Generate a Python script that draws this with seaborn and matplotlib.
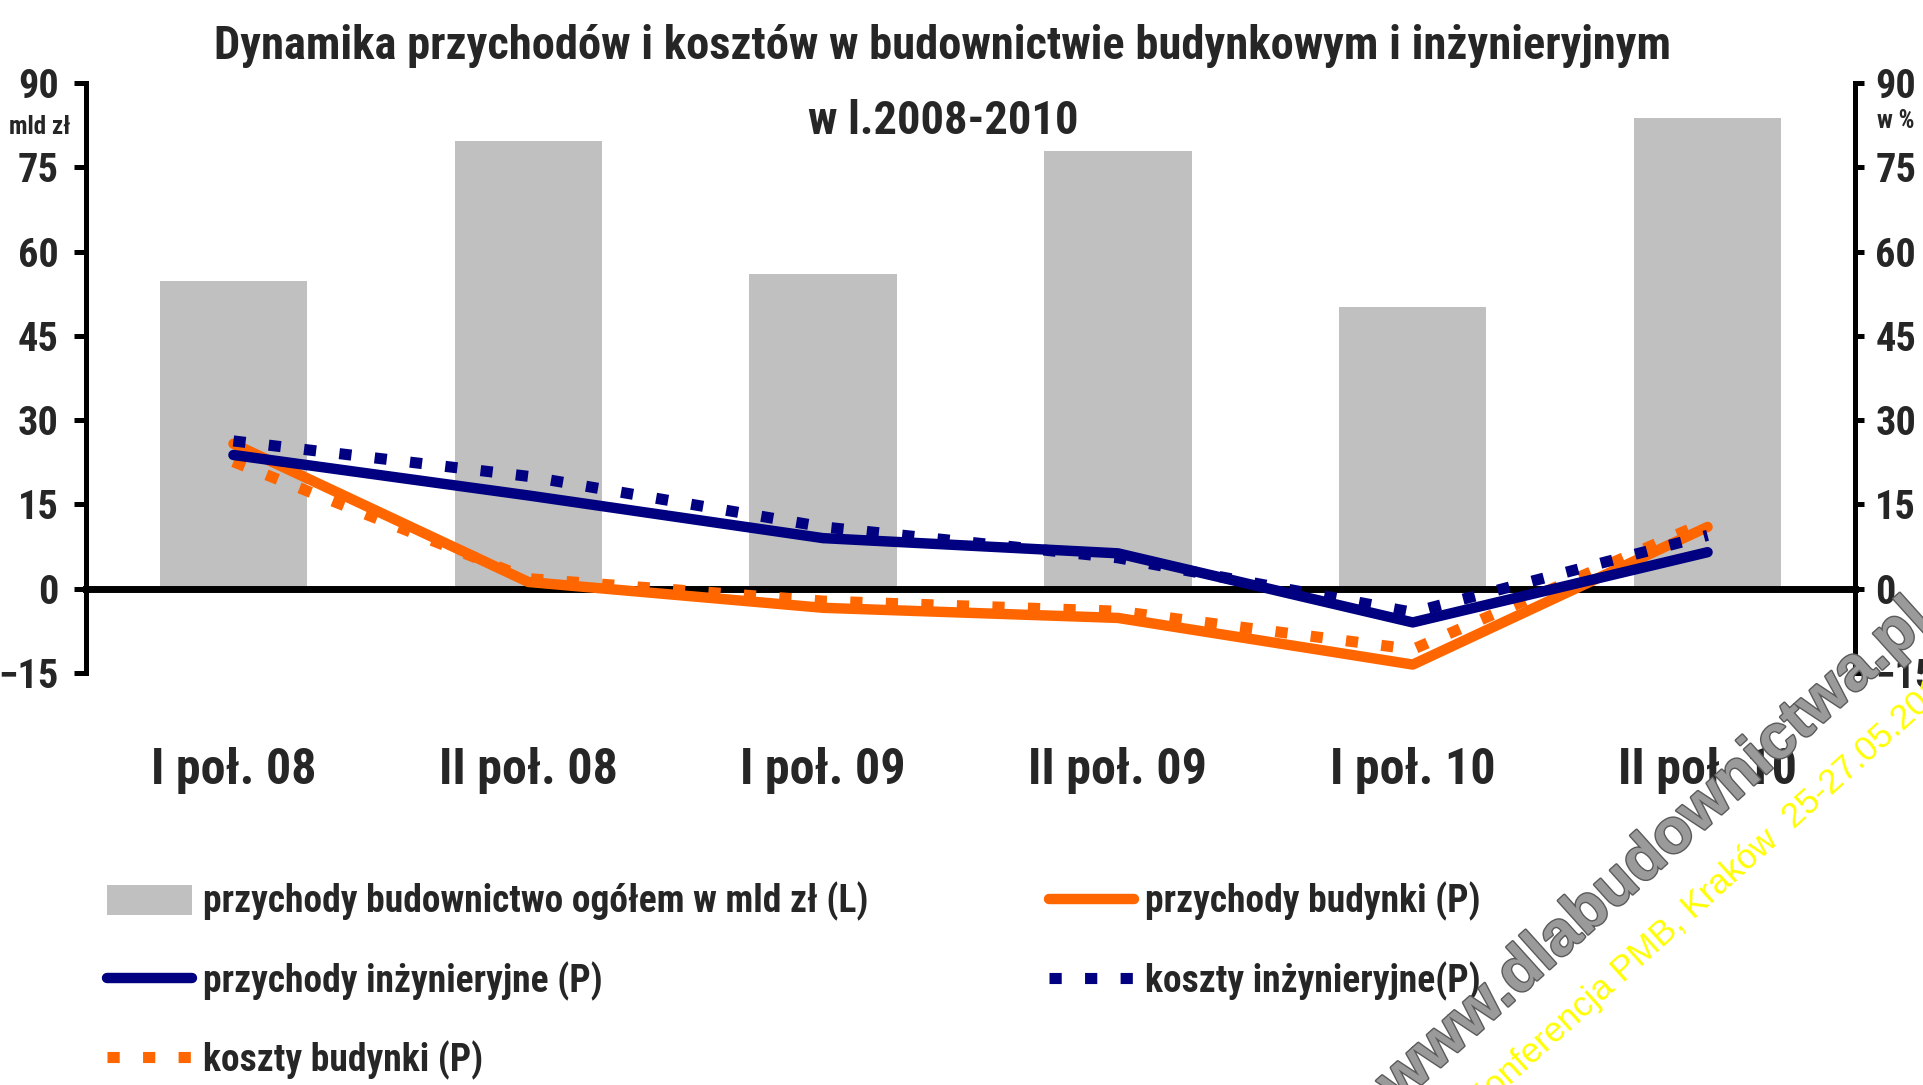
import numpy as np
import pandas as pd
import matplotlib
matplotlib.use("Agg")
import matplotlib.pyplot as plt
from matplotlib.lines import Line2D
from matplotlib.patches import Patch
import matplotlib.patheffects as pe
import seaborn as sns

# --- data -------------------------------------------------------------
okresy = ["I poł. 08", "II poł. 08", "I poł. 09", "II poł. 09", "I poł. 10", "II poł. 10"]
przychody_ogolem = [54.8, 79.7, 56.0, 77.9, 50.2, 83.8]          # mld zł (L)
przychody_budynki = [25.8, 1.2, -3.4, -5.2, -13.5, 11.0]          # % (P)
koszty_budynki = [22.6, 1.8, -2.2, -4.0, -10.8, 12.0]             # % (P)
przychody_inzynieryjne = [23.8, 16.6, 9.0, 6.3, -6.0, 6.5]        # % (P)
koszty_inzynieryjne = [26.3, 20.0, 11.0, 5.5, -4.2, 9.5]          # % (P)
y_ticks = [-15, 0, 15, 30, 45, 60, 75, 90]

ORANGE = "#FF6600"
NAVY = "#000080"
GREY = "#C0C0C0"

sns.set_style("white")
plt.rcParams["font.family"] = ["Roboto Condensed", "DejaVu Sans"]
plt.rcParams["font.stretch"] = "condensed"
plt.rcParams["font.weight"] = "bold"

W, H = 1924, 1085
fig = plt.figure(figsize=(W / 100, H / 100), dpi=100)
ax = fig.add_axes([86 / W, 1 - 673 / H, (1855 - 86) / W, (673 - 83) / H])

df = pd.DataFrame({"okres": okresy, "ogolem": przychody_ogolem})
sns.barplot(data=df, x="okres", y="ogolem", color=GREY, saturation=1,
            width=0.5, ax=ax, edgecolor="none", linewidth=0, zorder=1)

ax2 = ax.twinx()
xpos = np.arange(len(okresy))
dot = (0, (1.1, 2.1))
sns.lineplot(x=xpos, y=przychody_budynki, ax=ax2, color=ORANGE, lw=7.5,
             solid_capstyle="round", solid_joinstyle="round")
sns.lineplot(x=xpos, y=koszty_budynki, ax=ax2, color=ORANGE, lw=8,
             linestyle=dot, dash_capstyle="butt")
sns.lineplot(x=xpos, y=przychody_inzynieryjne, ax=ax2, color=NAVY, lw=7.5,
             solid_capstyle="round", solid_joinstyle="round")
sns.lineplot(x=xpos, y=koszty_inzynieryjne, ax=ax2, color=NAVY, lw=8,
             linestyle=dot, dash_capstyle="butt")

for a in (ax, ax2):
    a.set_ylim(-15, 90)
    a.set_yticks(y_ticks)
    a.set_xlabel("")
    a.set_ylabel("")
ax.set_xlim(-0.5, len(okresy) - 0.5)

# spines
ax.spines["top"].set_visible(False)
ax.spines["right"].set_visible(False)
ax.spines["bottom"].set_position(("data", 0))
ax.spines["bottom"].set_linewidth(5)
ax.spines["left"].set_linewidth(3.6)
for s in ("top", "left", "bottom"):
    ax2.spines[s].set_visible(False)
ax2.spines["right"].set_linewidth(3.6)
for sp in ax.spines.values():
    sp.set_color("black")
ax2.spines["right"].set_color("black")

# ticks
ax.set_xticks(xpos)
ax.set_xticklabels(okresy)
ax.set_xticks(xpos[:-1] + 0.5, minor=True)
ax.tick_params(axis="x", which="major", length=0, pad=114, labelsize=36)
ax.tick_params(axis="x", which="minor", length=16, width=1.6, direction="out", color="black")
ax.tick_params(axis="y", length=8.5, width=3.6, direction="out", pad=11, labelsize=29, color="black")
ax2.tick_params(axis="y", length=6.5, width=3.6, direction="out", pad=8, labelsize=29, color="black")
ax.grid(False)
ax2.grid(False)

fig.text(40 / W, 1 - 127 / H, "mld zł", ha="center", va="center", fontsize=18)
fig.text(1896 / W, 1 - 121 / H, "w %", ha="center", va="center", fontsize=18)

fig.suptitle("Dynamika przychodów i kosztów w budownictwie budynkowym i inżynieryjnym\nw l.2008-2010",
             x=943 / W, y=1 - 24 / H, va="top", ha="center", fontsize=33.5,
             fontweight="bold", linespacing=1.9)

# legend, two columns
h_bar = Patch(facecolor=GREY, edgecolor="none")
h_pb = Line2D([], [], color=ORANGE, lw=7.5, solid_capstyle="round")
h_pi = Line2D([], [], color=NAVY, lw=7.5, solid_capstyle="round")
h_kb = Line2D([], [], color=ORANGE, lw=8, linestyle=dot, dash_capstyle="butt")
h_ki = Line2D([], [], color=NAVY, lw=8, linestyle=dot, dash_capstyle="butt")

leg_kw = dict(frameon=False, fontsize=27, handlelength=2.27, handleheight=0.85,
              handletextpad=0.29, labelspacing=1.06, borderpad=0, borderaxespad=0,
              loc="upper left")
leg1 = fig.legend([h_bar, h_pi, h_kb],
                  ["przychody budownictwo ogółem w mld zł (L)", "przychody inżynieryjne (P)",
                   "koszty budynki (P)"],
                  bbox_to_anchor=(107 / W, 1 - 882 / H), **leg_kw)
leg2 = fig.legend([h_pb, h_ki], ["przychody budynki (P)", "koszty inżynieryjne(P)"],
                  bbox_to_anchor=(1049 / W, 1 - 882 / H), **leg_kw)

# watermarks
fig.text(1655 / W, 1 - 852 / H, "www.dlabudownictwa.pl", rotation=42, rotation_mode="anchor",
         ha="center", va="center", fontsize=45, fontweight="bold", fontstretch="normal",
         family=["Liberation Sans", "DejaVu Sans"], color="#9a9a9a", zorder=10,
         path_effects=[pe.withStroke(linewidth=2, foreground="#5a5a5a")])
fig.text(1712 / W, 1 - 890 / H, "Konferencja PMB, Kraków  25-27.05.2011", rotation=42,
         rotation_mode="anchor", ha="center", va="center", fontsize=25, fontweight="normal",
         fontstretch="normal", family=["Liberation Sans", "DejaVu Sans"], color="#FFFF00",
         zorder=10)

fig.savefig("out.png", dpi=100)
